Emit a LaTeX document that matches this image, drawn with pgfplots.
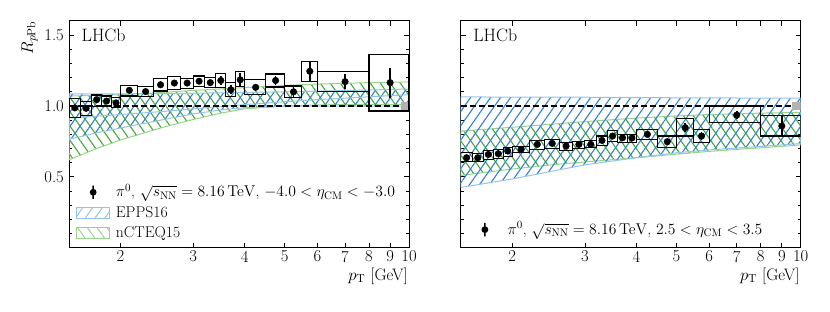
\documentclass[border=0pt]{standalone}
\usepackage{fix-cm}
\usepackage{pgfplots}
\pgfplotsset{compat=1.18}
\usetikzlibrary{patterns.meta}
\definecolor{bluehatch}{RGB}{50,128,208}
\definecolor{blueedge}{RGB}{150,195,232}
\definecolor{greenhatch}{RGB}{70,165,58}
\definecolor{greenedge}{RGB}{150,212,140}
\newcommand{\tfont}{\fontsize{16.7}{20}\selectfont}
\newcommand{\lfont}{\fontsize{15.7}{19}\selectfont}
\newcommand{\legtxt}[1]{\lfont\raisebox{0pt}[10.8bp][0bp]{#1}}

\pgfplotstableread{
x    y     e
1.55 0.987 0.010
1.65 0.984 0.010
1.75 1.045 0.010
1.85 1.035 0.010
1.95 1.022 0.010
2.1  1.111 0.010
2.3  1.102 0.010
2.5  1.150 0.010
2.7  1.162 0.012
2.9  1.162 0.012
3.1  1.175 0.015
3.3  1.165 0.015
3.5  1.180 0.035
3.7  1.115 0.033
3.9  1.185 0.045
4.25 1.132 0.015
4.75 1.180 0.032
5.25 1.100 0.037
5.75 1.245 0.065
7.0  1.172 0.053
9.0  1.165 0.106
}\leftdata

\pgfplotstableread{
x    y     e
1.55 0.635 0.008
1.65 0.635 0.008
1.75 0.658 0.008
1.85 0.663 0.008
1.95 0.682 0.008
2.1  0.694 0.008
2.3  0.729 0.008
2.5  0.736 0.008
2.7  0.717 0.008
2.9  0.729 0.008
3.1  0.729 0.010
3.3  0.757 0.010
3.5  0.788 0.020
3.7  0.776 0.012
3.9  0.774 0.012
4.25 0.800 0.012
4.75 0.748 0.012
5.25 0.847 0.032
5.75 0.788 0.028
7.0  0.936 0.030
9.0  0.859 0.070
}\rightdata

\begin{document}
\begin{tikzpicture}
\path[use as bounding box] (0,0) rectangle (830bp,312bp);

% ---------------- left panel ----------------
\begin{axis}[at={(69bp,64.3bp)}, anchor=south west,
    width=340bp, height=226.7bp, scale only axis,
    xmode=log, xmin=1.5, xmax=10, ymin=0, ymax=1.6,
    xtick={2,3,4,5,6,7,8,9,10}, xticklabels={2,3,4,5,6,7,8,9,10},
    minor xtick={},
    ytick={0.5,1.0,1.5}, yticklabels={0.5,1.0,1.5},
    minor ytick={0.1,0.2,0.3,0.4,0.6,0.7,0.8,0.9,1.1,1.2,1.3,1.4},
    tick align=inside, tick pos=both,
    major tick length=5bp, minor tick length=3bp,
    tick style={black, line width=0.8bp},
    axis line style={black, line width=1bp},
    xticklabel style={font=\tfont, inner sep=0pt, yshift=-3bp},
    yticklabel style={font=\tfont, inner sep=0pt, xshift=-5bp},
    xlabel={$p_\mathrm{T}$ [GeV]},
    xlabel style={font=\tfont, at={(rel axis cs:1,0)}, anchor=base east, inner sep=0pt, xshift=-1bp, yshift=-32.5bp},
    ylabel={$R_{p\mathrm{Pb}}$},
    ylabel style={font=\tfont, at={(rel axis cs:-0.106,1)}, anchor=base east, inner sep=0pt},
    legend style={draw=none, fill=none, font=\lfont,
      row sep=4bp, column sep=3.5bp,
      at={(0.011,0.02)}, anchor=south west},
    legend cell align=left,
]
% nCTEQ15 band
\addplot[draw=greenedge, line width=1bp, pattern={Lines[angle=-55,distance=8.2bp,line width=1.1bp]}, pattern color=greenhatch, forget plot]
  coordinates {(1.5,1.07) (2,1.08) (2.5,1.095) (3,1.11) (4,1.13) (5,1.145) (6,1.155) (8,1.165) (10,1.17)
  (10,1.012) (8,1.012) (6,1.008) (5,1.0) (4,0.98) (3.5,0.95) (3,0.905) (2.5,0.845) (2,0.76) (1.75,0.70) (1.5,0.62)} -- cycle;
% EPPS16 band
\addplot[draw=blueedge, line width=1bp, pattern={Lines[angle=55,distance=8.2bp,line width=1.1bp]}, pattern color=bluehatch, forget plot]
  coordinates {(1.5,1.085) (2,1.086) (2.5,1.088) (3,1.09) (4,1.096) (5,1.10) (6,1.105) (8,1.113) (10,1.12)
  (10,1.0) (8,1.0) (6,1.0) (5,0.998) (4,0.988) (3.5,0.972) (3,0.945) (2.5,0.90) (2,0.845) (1.75,0.81) (1.5,0.765)} -- cycle;
\addplot[blueedge, line width=1bp, forget plot] coordinates {(1.5,0.915) (2,0.94) (2.5,0.96) (3,0.98) (4,1.01) (5,1.03) (6,1.045) (8,1.065) (10,1.08)};
% unity line and normalisation box
\addplot[black, line width=1.3bp, dash pattern=on 6bp off 3bp, forget plot] coordinates {(1.5,1) (10,1)};
\addplot[fill=gray!60, draw=none, forget plot] coordinates {(9.55,0.975) (10,0.975) (10,1.025) (9.55,1.025)} -- cycle;
% systematic boxes
\foreach \xa/\xb/\ya/\yb in {1.5/1.6/0.918/1.052, 1.6/1.7/0.934/1.031, 1.7/1.8/0.998/1.078,
  1.8/1.9/1.000/1.071, 1.9/2.0/0.989/1.059, 2.0/2.2/1.071/1.146, 2.2/2.4/1.066/1.137,
  2.4/2.6/1.106/1.194, 2.6/2.8/1.118/1.208, 2.8/3.0/1.125/1.196, 3.0/3.2/1.137/1.212,
  3.2/3.4/1.130/1.200, 3.4/3.6/1.130/1.231, 3.6/3.8/1.064/1.165, 3.8/4.0/1.137/1.245,
  4.0/4.5/1.081/1.187, 4.5/5.0/1.134/1.226, 5.0/5.5/1.059/1.141, 5.5/6.0/1.175/1.314,
  6.0/8.0/1.102/1.243, 8.0/10.0/0.965/1.366}{
  \edef\temp{\noexpand\addplot[black, line width=1.1bp, forget plot] coordinates {(\xa,\ya) (\xb,\ya) (\xb,\yb) (\xa,\yb)} -- cycle;}
  \temp
}
% data
\addplot[black, only marks, mark=*, mark size=3.3bp, forget plot,
    error bars/.cd, y dir=both, y explicit, error bar style={line width=1.5bp}, error mark=none]
  table[x=x, y=y, y error=e] {\leftdata};
% legend
\addlegendimage{legend image code/.code={
  \filldraw[black, line width=1.5bp] (0bp,0bp) (33bp,0bp) (16.5bp,-6.7bp) -- (16.5bp,6.7bp) (16.5bp,0bp) circle[radius=2.6bp];}}
\addlegendentry{\legtxt{$\pi^0$, $\sqrt{s_\mathrm{NN}}=8.16\,\mathrm{TeV}$, $-4.0<\eta_\mathrm{CM}<-3.0$}}
\addlegendimage{legend image code/.code={
  \draw[blueedge, line width=1bp, pattern={Lines[angle=55,distance=8bp,line width=1bp]}, pattern color=blueedge] (0bp,-5.5bp) rectangle (33bp,5.5bp);}}
\addlegendentry{\legtxt{EPPS16}}
\addlegendimage{legend image code/.code={
  \draw[greenedge, line width=1bp, pattern={Lines[angle=-55,distance=8bp,line width=1bp]}, pattern color=greenedge] (0bp,-5.5bp) rectangle (33bp,5.5bp);}}
\addlegendentry{\legtxt{nCTEQ15}}
\node[anchor=north west, inner sep=0pt, font=\fontsize{18}{21}\selectfont, xshift=12.5bp, yshift=-7.5bp] at (rel axis cs:0,1) {LHCb};
\end{axis}

% ---------------- right panel ----------------
\begin{axis}[at={(460.7bp,64.3bp)}, anchor=south west,
    width=340bp, height=226.7bp, scale only axis,
    xmode=log, xmin=1.5, xmax=10, ymin=0, ymax=1.6,
    xtick={2,3,4,5,6,7,8,9,10}, xticklabels={2,3,4,5,6,7,8,9,10},
    minor xtick={},
    ytick={0.5,1.0,1.5}, yticklabels={},
    minor ytick={0.1,0.2,0.3,0.4,0.6,0.7,0.8,0.9,1.1,1.2,1.3,1.4},
    tick align=inside, tick pos=both,
    major tick length=5bp, minor tick length=3bp,
    tick style={black, line width=0.8bp},
    axis line style={black, line width=1bp},
    xticklabel style={font=\tfont, inner sep=0pt, yshift=-3bp},
    xlabel={$p_\mathrm{T}$ [GeV]},
    xlabel style={font=\tfont, at={(rel axis cs:1,0)}, anchor=base east, inner sep=0pt, xshift=-1bp, yshift=-32.5bp},
    legend style={draw=none, fill=none, font=\lfont,
      row sep=4bp, column sep=3.5bp,
      at={(0.011,0.034)}, anchor=south west},
    legend cell align=left,
]
% nCTEQ15 band
\addplot[draw=greenedge, line width=1bp, pattern={Lines[angle=-55,distance=8.2bp,line width=1.1bp]}, pattern color=greenhatch, forget plot]
  coordinates {(1.5,0.823) (2,0.85) (2.5,0.872) (3,0.89) (4,0.915) (5,0.93) (6,0.94) (8,0.95) (10,0.955)
  (10,0.725) (8,0.705) (6,0.68) (5,0.66) (4,0.635) (3,0.605) (2.5,0.585) (2,0.555) (1.5,0.51)} -- cycle;
% EPPS16 band
\addplot[draw=blueedge, line width=1bp, pattern={Lines[angle=55,distance=8.2bp,line width=1.1bp]}, pattern color=bluehatch, forget plot]
  coordinates {(1.5,1.064) (3,1.062) (5,1.058) (10,1.055)
  (10,0.735) (8,0.715) (6,0.69) (5,0.67) (4,0.635) (3,0.585) (2.5,0.54) (2,0.485) (1.5,0.425)} -- cycle;
% unity line and normalisation box
\addplot[black, line width=1.3bp, dash pattern=on 6bp off 3bp, forget plot] coordinates {(1.5,1) (10,1)};
\addplot[fill=gray!60, draw=none, forget plot] coordinates {(9.55,0.97) (10,0.97) (10,1.03) (9.55,1.03)} -- cycle;
% systematic boxes
\foreach \xa/\xb/\ya/\yb in {1.5/1.6/0.607/0.670, 1.6/1.7/0.607/0.668, 1.7/1.8/0.623/0.689,
  1.8/1.9/0.630/0.690, 1.9/2.0/0.646/0.710, 2.0/2.2/0.670/0.717, 2.2/2.4/0.694/0.757,
  2.4/2.6/0.700/0.764, 2.6/2.8/0.689/0.741, 2.8/3.0/0.700/0.750, 3.0/3.2/0.710/0.754,
  3.2/3.4/0.724/0.788, 3.4/3.6/0.752/0.828, 3.6/3.8/0.745/0.800, 3.8/4.0/0.745/0.800,
  4.0/4.5/0.765/0.835, 4.5/5.0/0.710/0.788, 5.0/5.5/0.788/0.913, 5.5/6.0/0.741/0.835,
  6.0/8.0/0.883/1.000, 8.0/10.0/0.788/0.930}{
  \edef\temp{\noexpand\addplot[black, line width=1.1bp, forget plot] coordinates {(\xa,\ya) (\xb,\ya) (\xb,\yb) (\xa,\yb)} -- cycle;}
  \temp
}
% data
\addplot[black, only marks, mark=*, mark size=3.3bp, forget plot,
    error bars/.cd, y dir=both, y explicit, error bar style={line width=1.5bp}, error mark=none]
  table[x=x, y=y, y error=e] {\rightdata};
\addlegendimage{legend image code/.code={
  \filldraw[black, line width=1.5bp] (0bp,0bp) (33bp,0bp) (16.5bp,-6.7bp) -- (16.5bp,6.7bp) (16.5bp,0bp) circle[radius=2.6bp];}}
\addlegendentry{\legtxt{$\pi^0$, $\sqrt{s_\mathrm{NN}}=8.16\,\mathrm{TeV}$, $2.5<\eta_\mathrm{CM}<3.5$}}
\node[anchor=north west, inner sep=0pt, font=\fontsize{18}{21}\selectfont, xshift=12.5bp, yshift=-7.5bp] at (rel axis cs:0,1) {LHCb};
\end{axis}
\end{tikzpicture}
\end{document}
